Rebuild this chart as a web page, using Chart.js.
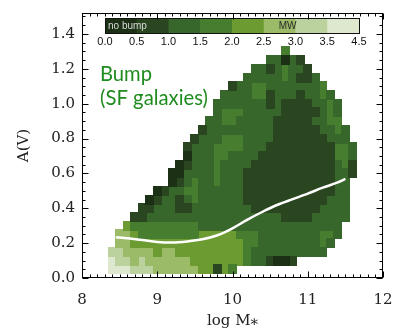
<!DOCTYPE html>
<html>
<head>
<meta charset="utf-8">
<script src="https://cdn.jsdelivr.net/npm/chart.js@4.4.0/dist/chart.umd.min.js"></script>
<style>
  html, body { margin: 0; padding: 0; background: #fff; }
</style>
</head>
<body>
<canvas id="bumpChart" width="395" height="331"></canvas>
<script>
// colour bar: bump strength bins
const binLabels = ['0.0', '0.5', '1.0', '1.5', '2.0', '2.5', '3.0', '3.5', '4.5'];
const binColors = ['#1b3015', '#2a4621', '#37672b', '#467d2e', '#6c9b32', '#9bbb68', '#bcd29e', '#dee8ce'];

// contour map, read off the picture as bin index per cell
// row 0 is the top (A(V) = 1.30), each row 0.05 lower; column 0 is log M = 8.4, step 0.1
const gridMass0 = 8.4;
const gridMassStep = 0.1;
const gridAvTop = 1.30;
const gridAvStep = 0.05;
const rowStart = [23, 21, 19, 18, 16, 15, 14, 14, 13, 12, 11, 10, 10, 9, 8, 8, 6, 5, 4, 3, 2, 1, 1, 0, 0, 0];
const rowBins = [
  '3',
  '22021',
  '22123221',
  '2222232112',
  '1223322222223',
  '222233122212232',
  '22222221211112232',
  '23332222211111232',
  '223322222111112233',
  '12222222221111112232',
  '122233322221111111222',
  '12223333222111111111332',
  '02223322221111111111332',
  '012223222211111111111231',
  '0022223222111111111111221',
  '012322322211111111111122',
  '01223322222211111111111122',
  '012212322222211111111111222',
  '1122211222222221111111112222',
  '11222222222222222222111122222',
  '43333333332222222222222222222',
  '554333333334444433322222222332',
  '55444444444444444332222222232',
  '66555545544444444432222222222',
  '7665655555544444443221001',
  '77766655555544143'
];

// median A(V) against mass (white curve)
const medianMass = [8.45, 8.6, 8.8, 9.0, 9.2, 9.4, 9.6, 9.8, 10.0, 10.2, 10.4, 10.6, 10.8, 11.0, 11.2, 11.4, 11.5];
const medianAv = [0.234, 0.228, 0.218, 0.207, 0.204, 0.21, 0.222, 0.245, 0.285, 0.335, 0.38, 0.42, 0.452, 0.484, 0.518, 0.548, 0.568];

const xTicks = [8, 9, 10, 11, 12];
const yTicks = [0, 0.2, 0.4, 0.6, 0.8, 1.0, 1.2, 1.4];

// one point list per colour bin
const binPoints = binColors.map(() => []);
rowBins.forEach((row, r) => {
  for (let i = 0; i < row.length; i++) {
    const ch = row[i];
    if (ch === '.' || ch === ' ') continue;
    binPoints[+ch].push({ x: gridMass0 + (rowStart[r] + i) * gridMassStep, y: gridAvTop - r * gridAvStep });
  }
});

// cell image sized from the scales, so every cell covers its grid box
const cellCache = {};
function cellStyle(ctx) {
  const sx = ctx.chart.scales.x, sy = ctx.chart.scales.y;
  const w = Math.ceil(Math.abs(sx.getPixelForValue(gridMass0 + gridMassStep) - sx.getPixelForValue(gridMass0))) + 1;
  const h = Math.ceil(Math.abs(sy.getPixelForValue(gridAvStep) - sy.getPixelForValue(0))) + 1;
  const color = binColors[ctx.datasetIndex - 1];
  const key = color + w + 'x' + h;
  if (!cellCache[key]) {
    const c = document.createElement('canvas');
    c.width = w; c.height = h;
    const g = c.getContext('2d');
    g.fillStyle = color;
    g.fillRect(0, 0, w, h);
    cellCache[key] = c;
  }
  return cellCache[key];
}

const datasets = [{
  type: 'line',
  data: medianMass.map((m, i) => ({ x: m, y: medianAv[i] })),
  borderColor: '#ffffff',
  borderWidth: 2.5,
  pointRadius: 0,
  showLine: true,
  tension: 0.4,
  cubicInterpolationMode: 'monotone',
  order: 0
}];
binPoints.forEach((pts) => {
  datasets.push({
    type: 'scatter',
    data: pts,
    pointStyle: cellStyle,
    pointRadius: 4,
    borderWidth: 0,
    order: 1
  });
});

const overlay = {
  id: 'overlay',
  afterDraw(chart) {
    const { ctx, chartArea: a, scales: { x, y } } = chart;
    ctx.save();

    // label
    ctx.fillStyle = '#1f8c1f';
    ctx.font = '21px Lato';
    ctx.textBaseline = 'alphabetic';
    ctx.textAlign = 'left';
    const fitText = (txt, lx, by, width) => {
      const m = ctx.measureText(txt).width;
      ctx.save();
      ctx.translate(lx, by);
      ctx.scale(width / m, 1);
      ctx.fillText(txt, 0, 0);
      ctx.restore();
    };
    fitText('Bump', a.left + 18, 81, 52);
    fitText('(SF galaxies)', a.left + 18, 105, 108);

    // colour bar
    const cbL = a.left + 23, cbR = a.left + 277, cbT = a.top + 5, cbH = 15;
    const bw = (cbR - cbL) / binColors.length;
    binColors.forEach((c, i) => {
      ctx.fillStyle = c;
      ctx.fillRect(cbL + i * bw, cbT, bw + 0.6, cbH);
    });
    ctx.strokeStyle = '#111';
    ctx.lineWidth = 1;
    ctx.strokeRect(Math.round(cbL) + 0.5, Math.round(cbT) + 0.5, Math.round(cbR - cbL), cbH);
    ctx.font = '10px "Liberation Sans"';
    ctx.textBaseline = 'middle';
    ctx.fillStyle = '#d8d8d8';
    ctx.fillText('no bump', cbL + 3, cbT + 8);
    ctx.fillStyle = '#2a2a2a';
    ctx.textAlign = 'center';
    ctx.fillText('MW', cbL + 5.75 * bw, cbT + 8);
    ctx.font = '11px "Liberation Sans"';
    ctx.fillStyle = '#111';
    binLabels.forEach((t, i) => {
      ctx.fillText(t, cbL + i * bw, cbT + cbH + 9);
    });

    // frame with inward ticks on all sides
    ctx.strokeStyle = '#000';
    ctx.lineWidth = 1;
    const L = Math.round(a.left) + 0.5, R = Math.round(a.right) - 0.5;
    const T = Math.round(a.top) + 0.5, B = Math.round(a.bottom) - 0.5;
    ctx.strokeRect(L, T, R - L, B - T);
    ctx.beginPath();
    for (let k = 0; k <= 40; k++) {
      const v = 8 + k * 0.1;
      const px = Math.round(x.getPixelForValue(v)) + 0.5;
      const len = k % 10 === 0 ? 6 : 3;
      ctx.moveTo(px, B); ctx.lineTo(px, B - len);
      ctx.moveTo(px, T); ctx.lineTo(px, T + len);
    }
    for (let k = 0; k <= 30; k++) {
      const v = k * 0.05;
      const py = Math.round(y.getPixelForValue(v)) + 0.5;
      const len = k % 4 === 0 ? 6 : 3;
      ctx.moveTo(L, py); ctx.lineTo(L + len, py);
      ctx.moveTo(R, py); ctx.lineTo(R - len, py);
    }
    ctx.stroke();
    ctx.restore();
  }
};

new Chart(document.getElementById('bumpChart'), {
  type: 'scatter',
  data: { datasets },
  options: {
    responsive: false,
    animation: false,
    devicePixelRatio: 1,
    layout: { padding: { top: 13, right: 12, left: 0, bottom: 0 } },
    plugins: { legend: { display: false }, tooltip: { enabled: false } },
    scales: {
      x: {
        type: 'linear',
        min: 8,
        max: 12,
        afterBuildTicks: (s) => { s.ticks = xTicks.map(v => ({ value: v })); },
        afterFit: (s) => { s.height = 53; s.paddingLeft = 0; s.paddingRight = 0; },
        grid: { display: false, drawTicks: false },
        border: { display: false },
        ticks: { font: { family: 'DejaVu Serif', size: 15 }, color: '#222', padding: 13, maxRotation: 0, callback: v => String(v) },
        title: { display: true, text: 'log M\u204E', font: { family: 'DejaVu Serif', size: 15 }, color: '#222', padding: { top: 0, bottom: 1 } }
      },
      y: {
        type: 'linear',
        min: 0,
        max: 1.52,
        afterBuildTicks: (s) => { s.ticks = yTicks.map(v => ({ value: v })); },
        afterFit: (s) => { s.width = 82; s.paddingTop = 0; s.paddingBottom = 0; },
        grid: { display: false, drawTicks: false },
        border: { display: false },
        ticks: { font: { family: 'DejaVu Serif', size: 15 }, color: '#222', padding: 7, callback: v => v.toFixed(1) },
        title: { display: true, text: 'A(V)', font: { family: 'DejaVu Serif', size: 15 }, color: '#222', padding: { top: 15, bottom: 0 } }
      }
    }
  },
  plugins: [overlay]
});
</script>
</body>
</html>
